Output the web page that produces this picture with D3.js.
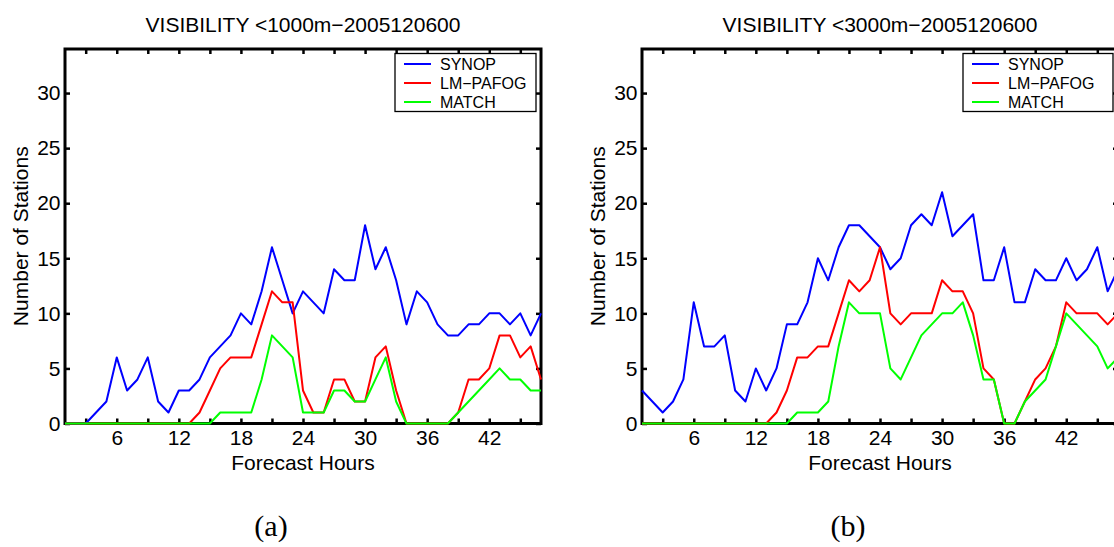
<!DOCTYPE html>
<html><head><meta charset="utf-8">
<script src="https://cdn.jsdelivr.net/npm/d3@7"></script>
<style>
html,body{margin:0;padding:0;background:#fff;overflow:hidden}
text{font-family:"Liberation Sans",Arial,Helvetica,sans-serif;fill:#000}
</style></head>
<body>
<svg id="chart" width="1114" height="547"></svg>
<script>
// ---------- data ----------
const hours = [1,2,3,4,5,6,7,8,9,10,11,12,13,14,15,16,17,18,19,20,21,22,23,24,25,26,27,28,29,30,31,32,33,34,35,36,37,38,39,40,41,42,43,44,45,46,47];
const xTickValues = [3,6,9,12,15,18,21,24,27,30,33,36,39,42,45];
const xTickLabels = [6,12,18,24,30,36,42];
const yTickValues = [0,5,10,15,20,25,30];
const seriesNames = ["SYNOP","LM\u2212PAFOG","MATCH"];
const seriesColors = ["#0000ff","#ff0000","#00ff00"];
const titles = ["VISIBILITY <1000m\u22122005120600","VISIBILITY <3000m\u22122005120600"];
const panelLabels = ["(a)","(b)"];

// panel (a): visibility < 1000 m
const synopA = [0,0,0,1,2,6,3,4,6,2, 1,3,3,4,6,7,8,10,9,12, 16,13,10,12,11,10,14,13,13,18, 14,16,13,9,12,11,9,8,8,9, 9,10,10,9,10,8,10];
const pafogA = [0,0,0,0,0,0,0,0,0,0, 0,0,0,1,3,5,6,6,6,9, 12,11,11,3,1,1,4,4,2,2, 6,7,3,0,0,0,0,0,1,4, 4,5,8,8,6,7,4];
const matchA = [0,0,0,0,0,0,0,0,0,0, 0,0,0,0,0,1,1,1,1,4, 8,7,6,1,1,1,3,3,2,2, 4,6,2,0,0,0,0,0,1,2, 3,4,5,4,4,3,3];
// panel (b): visibility < 3000 m
const synopB = [3,2,1,2,4,11,7,7,8,3, 2,5,3,5,9,9,11,15,13,16, 18,18,17,16,14,15,18,19,18,21, 17,18,19,13,13,16,11,11,14,13, 13,15,13,14,16,12,14];
const pafogB = [0,0,0,0,0,0,0,0,0,0, 0,0,0,1,3,6,6,7,7,10, 13,12,13,16,10,9,10,10,10,13, 12,12,10,5,4,0,0,2,4,5, 7,11,10,10,10,9,10];
const matchB = [0,0,0,0,0,0,0,0,0,0, 0,0,0,0,0,1,1,1,2,7, 11,10,10,10,5,4,6,8,9,10, 10,11,8,4,4,0,0,2,3,4, 7,10,9,8,7,5,6];

// ---------- layout ----------
const panels = [
  {left:65,  right:541,  data:[synopA,pafogA,matchA], title:titles[0], label:panelLabels[0], legW:141},
  {left:642, right:1118, data:[synopB,pafogB,matchB], title:titles[1], label:panelLabels[1], legW:150}
];
const plotTop = 49, plotBottom = 423.5;
const svg = d3.select("#chart");

panels.forEach(p => {
  const x = d3.scaleLinear().domain([1,47]).range([p.left,p.right]);
  const y = d3.scaleLinear().domain([0,34]).range([plotBottom,plotTop]);
  const g = svg.append("g");
  const cx = (p.left+p.right)/2;

  // title
  g.append("text").attr("x",cx).attr("y",31.5).attr("text-anchor","middle")
    .style("font-size","21px").text(p.title);

  // ticks (inward) on all four sides
  const fmtX = d => xTickLabels.includes(d) ? String(d) : "";
  const axB = d3.axisBottom(x).tickValues(xTickValues).tickSizeInner(-5).tickSizeOuter(0).tickPadding(7).tickFormat(fmtX);
  const axT = d3.axisTop(x).tickValues(xTickValues).tickSizeInner(-5).tickSizeOuter(0).tickFormat("");
  const axL = d3.axisLeft(y).tickValues(yTickValues).tickSizeInner(-5).tickSizeOuter(0).tickPadding(4.5);
  const axR = d3.axisRight(y).tickValues(yTickValues).tickSizeInner(-5).tickSizeOuter(0).tickFormat("");
  const style = sel => {
    sel.select(".domain").remove();
    sel.selectAll(".tick line").attr("stroke","#000").attr("stroke-width",2.5);
    sel.selectAll(".tick text").style("font-size","21px").style("font-family","'Liberation Sans',Arial,sans-serif").attr("fill","#000");
  };
  g.append("g").attr("transform",`translate(0,${plotBottom})`).call(axB).call(style);
  g.append("g").attr("transform",`translate(0,${plotTop})`).call(axT).call(style);
  g.append("g").attr("transform",`translate(${p.left},0)`).call(axL).call(style);
  g.append("g").attr("transform",`translate(${p.right},0)`).call(axR).call(style);

  // box
  g.append("rect").attr("x",p.left).attr("y",plotTop).attr("width",p.right-p.left).attr("height",plotBottom-plotTop)
    .attr("fill","none").attr("stroke","#000").attr("stroke-width",3);

  // series
  const line = d3.line().x((d,i)=>x(hours[i])).y(d=>y(d));
  p.data.forEach((s,k) => {
    g.append("path").datum(s).attr("d",line).attr("fill","none")
      .attr("stroke",seriesColors[k]).attr("stroke-width",2).attr("stroke-linejoin","round");
  });

  // axis labels
  g.append("text").attr("x",cx).attr("y",469.5).attr("text-anchor","middle")
    .style("font-size","21px").text("Forecast Hours");
  g.append("text").attr("transform",`translate(${p.left-37},${(plotTop+plotBottom)/2}) rotate(-90)`)
    .attr("text-anchor","middle").style("font-size","21px").text("Number of Stations");

  // legend
  const lx = p.right - 5 - p.legW, ly = 53.5;
  const lg = g.append("g");
  lg.append("rect").attr("x",lx).attr("y",ly).attr("width",p.legW).attr("height",58)
    .attr("fill","#fff").attr("stroke","#000").attr("stroke-width",1.3);
  const rows = [64,83,102];
  seriesNames.forEach((n,k) => {
    lg.append("line").attr("x1",lx+9).attr("x2",lx+36).attr("y1",rows[k]).attr("y2",rows[k])
      .attr("stroke",seriesColors[k]).attr("stroke-width",2);
    lg.append("text").attr("x",lx+45).attr("y",rows[k]+5.8).style("font-size","16px").text(n);
  });

  // panel label
  g.append("text").attr("x",p.left+206).attr("y",536).attr("text-anchor","middle")
    .style("font-family","'Liberation Serif','Times New Roman',serif").style("font-size","30px").text(p.label);
});
</script>
</body></html>
